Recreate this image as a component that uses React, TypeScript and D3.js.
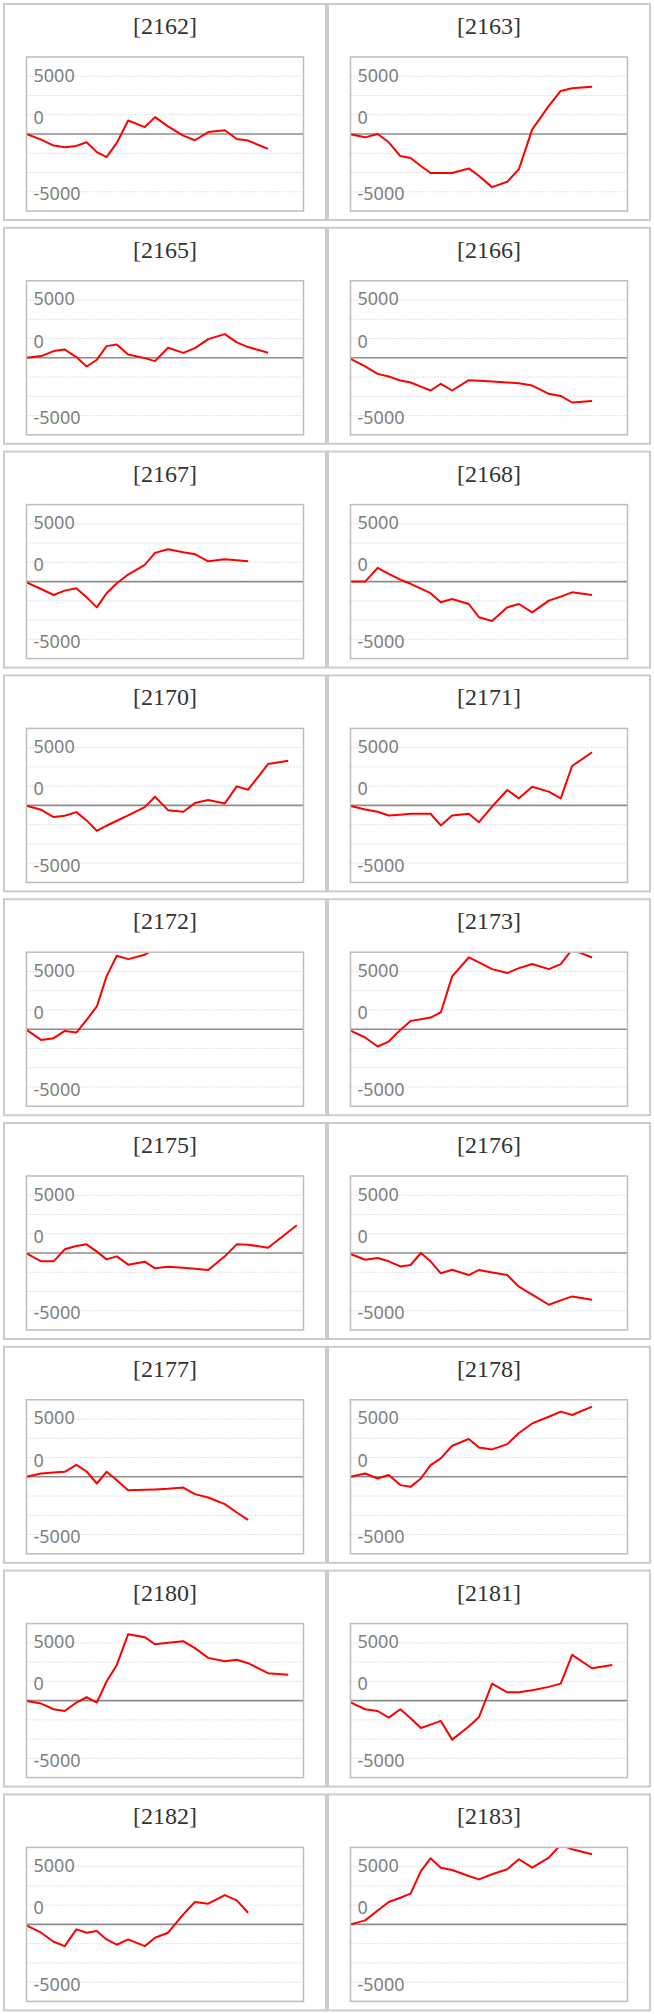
import * as d3 from "d3";

// ── Data ──────────────────────────────────────────────────────
// x positions of the sample points, as % of the plot width
const X = [0, 5.3, 9.8, 13.8, 18.0, 21.7, 25.4, 28.9, 32.6, 36.7, 42.7, 46.4, 51.1, 56.6, 60.8, 65.6, 71.6, 75.9, 80.0, 87.2, 94.5, 97.6];

type V = (number | null)[];

const V2162: V = [0, -490, -1000, -1140, -1030, -720, -1570, -2000, -770, 1170, 600, 1460, 660, -140, -540, 170, 320, -430, -570, -1290, null, null];
const V2163: V = [-30, -290, 0, -720, -1910, -2080, -2770, -3380, -3380, -3380, -2980, -3640, -4600, -4130, -3040, 400, 2430, 3730, 3960, 4100, null, null];
const V2165: V = [0, 150, 580, 720, 60, -750, -170, 1010, 1160, 290, -30, -290, 870, 430, 840, 1620, 2050, 1330, 930, 430, null, null];
const V2166: V = [-100, -750, -1390, -1620, -1970, -2140, -2490, -2830, -2250, -2830, -1940, -1990, -2050, -2140, -2200, -2400, -3120, -3300, -3870, -3730, null, null];
const V2167: V = [-60, -640, -1160, -780, -580, -1360, -2230, -1010, -150, 610, 1450, 2490, 2800, 2540, 2370, 1760, 1940, 1850, 1760, null, null, null];
const V2168: V = [0, 0, 1190, 670, 170, -190, -610, -1000, -1790, -1500, -1940, -3090, -3410, -2230, -1940, -2660, -1650, -1300, -930, -1160, null, null];
const V2170: V = [-30, -380, -1010, -900, -580, -1300, -2200, -1760, -1330, -870, -150, 750, -410, -550, 200, 460, 170, 1650, 1360, 3580, 3870, null];
const V2171: V = [-60, -350, -550, -870, -800, -720, -720, -720, -1730, -870, -720, -1450, -100, 1330, 610, 1620, 1190, 610, 3410, 4600, null, null];
const V2172: V = [-60, -930, -780, -150, -290, 810, 1970, 4570, 6360, 6070, 6450, 7000, 7400, 7600, 7800, 7900, 8100, 8200, 8300, 8500, null, null];
const V2173: V = [-120, -720, -1500, -1070, -60, 720, 870, 1010, 1450, 4570, 6210, 5780, 5200, 4860, 5290, 5640, 5200, 5640, 6900, 6210, null, null];
const V2175: V = [-30, -720, -720, 320, 610, 750, 120, -550, -290, -1010, -750, -1330, -1190, -1270, -1360, -1470, -290, 750, 720, 460, null, 2400];
const V2176: V = [-90, -580, -430, -720, -1160, -1040, 0, -720, -1760, -1450, -1910, -1470, -1680, -1910, -2920, -3610, -4480, -4100, -3760, -4050, null, null];
const V2177: V = [0, 290, 380, 430, 1040, 460, -580, 430, -290, -1160, -1130, -1100, -1040, -930, -1500, -1790, -2370, -3090, -3730, null, null, null];
const V2178: V = [0, 290, -150, 150, -720, -870, -150, 1010, 1590, 2690, 3270, 2540, 2370, 2830, 3790, 4620, 5200, 5640, 5350, 6070, null, null];
const V2180: V = [-30, -260, -750, -900, -170, 290, -170, 1650, 3090, 5750, 5490, 4880, 5000, 5140, 4540, 3700, 3410, 3530, 3240, 2370, 2230, null];
const V2181: V = [-150, -750, -900, -1470, -750, -1530, -2370, -2080, -1760, -3380, -2250, -1420, 1470, 720, 720, 900, 1190, 1470, 3960, 2800, 3090, null];
const V2182: V = [-90, -720, -1500, -1880, -430, -720, -580, -1300, -1760, -1300, -1880, -1160, -720, 870, 1940, 1790, 2540, 2080, 1010, null, null, null];
const V2183: V = [0, 350, 1210, 1940, 2310, 2660, 4620, 5720, 4910, 4710, 4190, 3900, 4340, 4770, 5640, 4910, 5780, 6900, 6500, 6070, null, null];

const PANELS: [string, V][] = [
  ["2162", V2162], ["2163", V2163],
  ["2165", V2165], ["2166", V2166],
  ["2167", V2167], ["2168", V2168],
  ["2170", V2170], ["2171", V2171],
  ["2172", V2172], ["2173", V2173],
  ["2175", V2175], ["2176", V2176],
  ["2177", V2177], ["2178", V2178],
  ["2180", V2180], ["2181", V2181],
  ["2182", V2182], ["2183", V2183],
];

const Y_MAX = 20000 / 3;
const GRID = [-5000, -10000 / 3, -5000 / 3, 5000 / 3, 10000 / 3, 5000];
const TICKS = [5000, 0, -5000];

// ── Geometry ──────────────────────────────────────────────────
const W = 654;
const H = 2014;
const COL_X = [3, 327];
const PANEL_W = 324;
const PANEL_H = 218;
const ROW_TOP = 3;
const ROW_STEP = 223.8;
const PLOT = { left: 23.5, right: 300.5, top: 54, bottom: 208 };

function Panel({ id, values, x0, y0 }: { id: string; values: V; x0: number; y0: number }) {
  const left = x0 + PLOT.left;
  const right = x0 + PLOT.right;
  const top = y0 + PLOT.top;
  const bottom = y0 + PLOT.bottom;

  const x = d3.scaleLinear().domain([0, 100]).range([left, right]);
  const y = d3.scaleLinear().domain([-Y_MAX, Y_MAX]).range([bottom, top]);

  const pts = X.map((d, i) => [d, values[i]] as [number, number | null]).filter(
    (p) => p[1] !== null
  ) as [number, number][];

  const path = d3
    .line<[number, number]>()
    .x((p) => x(p[0]))
    .y((p) => y(p[1]))(pts);

  const clipId = `clip-${id}`;

  // label baselines, relative to their gridline
  const labelY = (t: number) => (t === 0 ? y(0) - 10.3 : t > 0 ? y(t) + 5.4 : y(t) + 8.7);

  return (
    <g>
      <rect x={x0 + 1} y={y0 + 1} width={PANEL_W - 2} height={PANEL_H - 2}
        fill="#fff" stroke="#cccccc" strokeWidth={2} />
      <text x={x0 + PANEL_W / 2} y={y0 + 31} textAnchor="middle"
        fontFamily="'Liberation Serif', 'DejaVu Serif', serif" fontSize={24} fill="#333">
        [{id}]
      </text>

      <clipPath id={clipId}>
        <rect x={left} y={top} width={right - left} height={bottom - top} />
      </clipPath>

      {GRID.map((g) => (
        <line key={g} x1={left} x2={right} y1={y(g)} y2={y(g)}
          stroke="#d9d9d9" strokeWidth={1} strokeDasharray="1.5,1.5" />
      ))}

      {TICKS.map((t) => (
        <text key={t} x={left + 7} y={labelY(t)} fontFamily="'Noto Sans', sans-serif"
          fontSize={18} fill="#808080">
          {t}
        </text>
      ))}

      <line x1={left} x2={right} y1={y(0)} y2={y(0)} stroke="#8c8c8c" strokeWidth={1.6} />

      <path d={path ?? ""} fill="none" stroke="#ff0000" strokeWidth={2}
        strokeLinejoin="round" clipPath={`url(#${clipId})`} />

      <rect x={left} y={top} width={right - left} height={bottom - top}
        fill="none" stroke="#bdbdbd" strokeWidth={1.5} />
    </g>
  );
}

export default function App() {
  return (
    <svg width={W} height={H} style={{ position: "absolute", left: 0, top: 0, background: "#fff" }}>
      {PANELS.map(([id, values], i) => (
        <Panel key={id} id={id} values={values}
          x0={COL_X[i % 2]} y0={ROW_TOP + ROW_STEP * Math.floor(i / 2)} />
      ))}
    </svg>
  );
}
